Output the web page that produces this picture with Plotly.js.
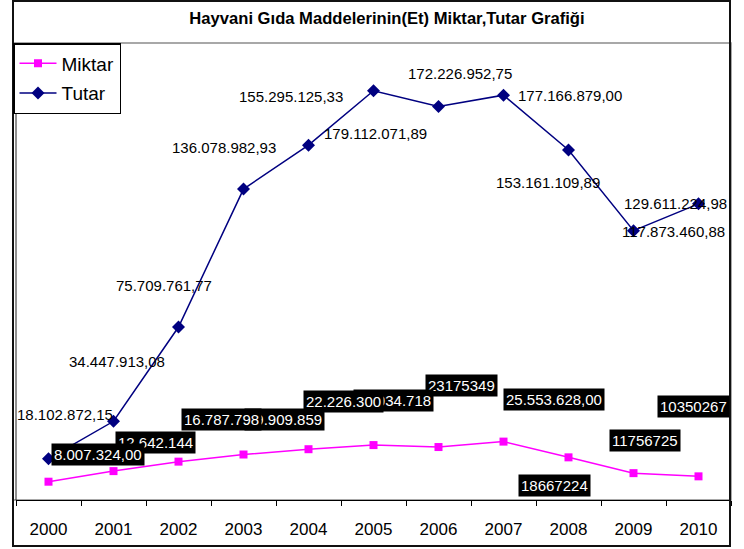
<!DOCTYPE html>
<html>
<head>
<meta charset="utf-8">
<script src="https://cdn.plot.ly/plotly-3.0.1.min.js"></script>
<style>html,body{margin:0;padding:0;background:#fff;}#chart{width:744px;height:549px;}</style>
</head>
<body>
<div id="chart"></div>
<script>
// ---- data ----
const years = ['2000','2001','2002','2003','2004','2005','2006','2007','2008','2009','2010'];
const miktar = [8007324, 12642144, 16787798, 19909859, 22226300, 24034718, 23175349, 25553628, 18667224, 11756725, 10350267];
const tutar = [18102872.15, 34447913.08, 75709761.77, 136078982.93, 155295125.33, 179112071.89, 172226952.75, 177166879.00, 153161109.89, 117873460.88, 129611224.98];
const miktarLabels = ['8.007.324,00','12.642.144','16.787.798','19.909.859','22.226.300','24.034.718','23175349','25.553.628,00','18667224','11756725','10350267'];
const tutarLabels = ['18.102.872,15','34.447.913,08','75.709.761,77','136.078.982,93','155.295.125,33','179.112.071,89','172.226.952,75','177.166.879,00','153.161.109,89','117.873.460,88','129.611.224,98'];
const seriesNames = ['Miktar','Tutar'];
const titleText = 'Hayvani Gıda Maddelerinin(Et) Miktar,Tutar Grafiği';

// ---- label placement (pixel offsets from each point) ----
const miktarShift = [[49,27],[42,29],[43,42],[41,35],[35,48],[20,45],[23,62],[50,42],[-14,-28],[11,33],[-5,70]];
const tutarShift = [[16,44],[3,60],[-15,42],[-20,42],[-18,49],[2,-43],[21,33],[66,0],[-21,-32],[40,-1],[-23,0]];

const FONT = 'Arial, Liberation Sans, sans-serif';
const W = 744, H = 549;
const M = {l:16, r:13, t:43, b:49};
const pw = W - M.l - M.r, ph = H - M.t - M.b;
const px = p => (p - M.l) / pw;
const py = q => (H - M.b - q) / ph;

const traces = [
  {x: years, y: miktar, name: seriesNames[0], legendgroup: 'a', type: 'scatter', mode: 'lines+markers',
   line: {color: '#FF00FF', width: 1.5}, marker: {symbol: 'square', size: 8, color: '#FF00FF'}},
  {x: years, y: tutar, name: seriesNames[1], legendgroup: 'b', type: 'scatter', mode: 'lines+markers',
   line: {color: '#000080', width: 1.5}, marker: {symbol: 'diamond', size: 10, color: '#000080'}}
];

const annotations = [];
tutar.forEach((v, i) => annotations.push({
  x: i, y: v, xref: 'x', yref: 'y', text: tutarLabels[i], showarrow: false,
  xshift: tutarShift[i][0], yshift: tutarShift[i][1],
  font: {family: FONT, size: 15, color: '#000'}
}));
for (let i = miktar.length - 1; i >= 0; i--) {
  annotations.push({
    x: i, y: miktar[i], xref: 'x', yref: 'y', text: miktarLabels[i], showarrow: false,
    xshift: miktarShift[i][0], yshift: miktarShift[i][1],
    bgcolor: '#000', borderpad: 2,
    font: {family: FONT, size: 15, color: '#fff'}
  });
}

const shapes = [
  {type: 'rect', xref: 'paper', yref: 'paper', x0: px(13), x1: px(731), y0: py(500), y1: py(43),
   line: {color: '#8c8c8c', width: 1.5}, layer: 'below'},
  {type: 'line', xref: 'paper', yref: 'paper', x0: px(16), x1: px(16), y0: py(500), y1: py(43),
   line: {color: '#222', width: 1}},
  {type: 'rect', xref: 'paper', yref: 'paper', x0: px(13), x1: px(730), y0: py(546), y1: py(1),
   line: {color: '#111', width: 2}}
];

const layout = {
  width: W, height: H,
  margin: M,
  paper_bgcolor: '#fff', plot_bgcolor: '#fff',
  font: {family: FONT, color: '#000'},
  title: {text: '<b>' + titleText + '</b>', font: {family: FONT, size: 16.6, color: '#000'},
          x: px(387), xref: 'paper', xanchor: 'center', y: 1 - 18 / H, yref: 'container', yanchor: 'middle'},
  showlegend: true,
  legend: {x: px(13), y: py(43), xanchor: 'left', yanchor: 'top', xref: 'paper', yref: 'paper',
           bgcolor: '#fff', bordercolor: '#000', borderwidth: 1.5, itemwidth: 37,
           font: {family: FONT, size: 19, color: '#000'}, tracegroupgap: 2},
  xaxis: {type: 'category', range: [-0.5, years.length - 0.5], tickson: 'boundaries',
          ticks: 'outside', ticklen: 5, tickwidth: 1, tickcolor: '#000',
          showline: true, linecolor: '#000', linewidth: 1, showgrid: false, zeroline: false,
          ticklabelstandoff: 14,
          tickfont: {family: FONT, size: 17, color: '#000'}, fixedrange: true},
  xaxis2: {overlaying: 'x', anchor: 'y', side: 'bottom', type: 'linear',
           range: [-0.5, years.length - 0.5],
           tickvals: years.slice(1).map((_, i) => i + 0.5),
           ticks: 'inside', ticklen: 5, tickwidth: 1, tickcolor: '#000',
           showticklabels: false, showline: false, showgrid: false, zeroline: false},
  yaxis: {range: [0, 200000000], showticklabels: false, ticks: '', showline: false, showgrid: false, zeroline: false, fixedrange: true},
  annotations: annotations,
  shapes: shapes
};

Plotly.newPlot('chart', traces, layout, {displayModeBar: false, staticPlot: true});
</script>
</body>
</html>
